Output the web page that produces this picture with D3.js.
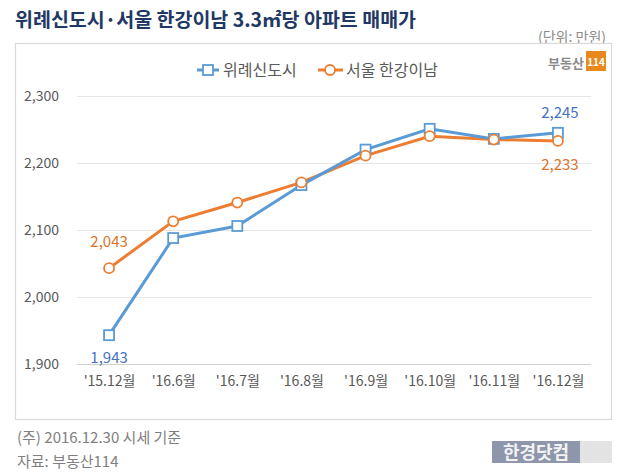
<!DOCTYPE html>
<html><head><meta charset="utf-8">
<script src="https://cdn.jsdelivr.net/npm/d3@7"></script>
<style>
body{margin:0;background:#fff;}
text{font-family:"Noto Sans CJK KR","Noto Sans",sans-serif;}
</style></head>
<body><svg id="c" width="630" height="472"></svg>
<script>
const categories = ["'15.12월","'16.6월","'16.7월","'16.8월","'16.9월","'16.10월","'16.11월","'16.12월"];
const wiryeValues = [1943, 2088, 2106, 2167, 2220, 2251, 2236, 2245];
const seoulValues = [2043, 2113, 2141, 2171, 2211, 2240, 2235, 2233];
const seriesNames = ["위례신도시", "서울 한강이남"];
const yTicks = [1900, 2000, 2100, 2200, 2300];

const svg = d3.select("#c");
const blue = "#5b9bd5", orange = "#ed7d31";
const FF = '"Noto Sans CJK KR","Noto Sans",sans-serif';

// title
svg.append("text").attr("x", 15).attr("y", 27).attr("font-size", 19.5).attr("font-weight", "bold")
  .attr("fill", "#1f3864").text("위례신도시·서울 한강이남 3.3㎡당 아파트 매매가");
svg.append("text").attr("x", 606).attr("y", 42).attr("text-anchor", "end").attr("font-size", 14)
  .attr("fill", "#8c8c8c").text("(단위: 만원)");

// box
svg.append("rect").attr("x", 15.5).attr("y", 43.5).attr("width", 596).attr("height", 376)
  .attr("fill", "#fff").attr("stroke", "#d9d9d9").attr("stroke-width", 1.2);

// logo
svg.append("text").attr("x", 584).attr("y", 68).attr("text-anchor", "end").attr("font-size", 13)
  .attr("font-weight", "bold").attr("fill", "#8a8a8a").text("부동산");
svg.append("rect").attr("x", 586).attr("y", 51).attr("width", 20).attr("height", 20).attr("fill", "#e8891d");
svg.append("text").attr("x", 596).attr("y", 66).attr("text-anchor", "middle").attr("font-size", 10)
  .attr("font-weight", "bold").attr("fill", "#fff").text("114");

const x = d3.scalePoint().domain(categories).range([77, 590]).padding(0.5);
const y = d3.scaleLinear().domain([1900, 2300]).range([364, 96]);

// grid
svg.append("g").selectAll("line").data(yTicks).join("line")
  .attr("x1", 77).attr("x2", 591).attr("y1", d => y(d) + 0.5).attr("y2", d => y(d) + 0.5)
  .attr("stroke", d => d === 1900 ? "#d0d0d0" : "#e6e6e6").attr("stroke-width", 1);

// y axis labels
const yAxis = d3.axisLeft(y).tickValues(yTicks).tickFormat(d3.format(",")).tickSize(0).tickPadding(0);
const ga = svg.append("g").attr("transform", "translate(59,0)").call(yAxis);
ga.select(".domain").remove();
ga.selectAll("text").attr("font-size", 14).attr("fill", "#595959").style("font-family", FF);

// x axis labels
const xAxis = d3.axisBottom(x).tickSize(0).tickPadding(0);
const gx = svg.append("g").attr("transform", "translate(0,376)").call(xAxis);
gx.select(".domain").remove();
gx.selectAll("text").attr("font-size", 14).attr("fill", "#595959").style("font-family", FF);

const line = d3.line().x((d, i) => x(categories[i])).y(d => y(d));
svg.append("path").datum(seoulValues).attr("d", line).attr("fill", "none").attr("stroke", orange).attr("stroke-width", 3);
svg.append("path").datum(wiryeValues).attr("d", line).attr("fill", "none").attr("stroke", blue).attr("stroke-width", 3);

svg.append("g").selectAll("rect").data(wiryeValues).join("rect")
  .attr("x", (d, i) => x(categories[i]) - 5).attr("y", d => y(d) - 5)
  .attr("width", 10).attr("height", 10).attr("fill", "#fff").attr("stroke", blue).attr("stroke-width", 1.8);
svg.append("g").selectAll("circle").data(seoulValues).join("circle")
  .attr("cx", (d, i) => x(categories[i])).attr("cy", d => y(d)).attr("r", 5)
  .attr("fill", "#fff").attr("stroke", orange).attr("stroke-width", 1.8);

// data labels
const fmt = d3.format(",");
const lab = (txt, cx, cy, col) => svg.append("text").attr("x", cx).attr("y", cy).attr("text-anchor", "middle")
  .attr("font-size", 15).attr("fill", col).text(txt);
const last = categories.length - 1;
lab(fmt(seoulValues[0]), x(categories[0]), y(seoulValues[0]) - 21, "#d9752c");
lab(fmt(wiryeValues[0]), x(categories[0]), y(wiryeValues[0]) + 28, "#4472c4");
lab(fmt(wiryeValues[last]), x(categories[last]) + 2, y(wiryeValues[last]) - 15, "#4472c4");
lab(fmt(seoulValues[last]), x(categories[last]) + 2, y(seoulValues[last]) + 29, "#d9752c");

// legend
const lg = svg.append("g");
lg.append("line").attr("x1", 197).attr("x2", 219).attr("y1", 70).attr("y2", 70).attr("stroke", blue).attr("stroke-width", 3);
lg.append("rect").attr("x", 203).attr("y", 65).attr("width", 10).attr("height", 10).attr("fill", "#fff").attr("stroke", blue).attr("stroke-width", 1.8);
lg.append("text").attr("x", 223).attr("y", 76).attr("font-size", 16).attr("fill", "#595959").text(seriesNames[0]);
lg.append("line").attr("x1", 318).attr("x2", 343).attr("y1", 70).attr("y2", 70).attr("stroke", orange).attr("stroke-width", 3);
lg.append("circle").attr("cx", 330).attr("cy", 70).attr("r", 5).attr("fill", "#fff").attr("stroke", orange).attr("stroke-width", 1.8);
lg.append("text").attr("x", 346).attr("y", 76).attr("font-size", 16).attr("fill", "#595959").text(seriesNames[1]);

// footer
svg.append("text").attr("x", 17).attr("y", 443).attr("font-size", 15).attr("fill", "#7f7f7f").text("(주) 2016.12.30 시세 기준");
svg.append("text").attr("x", 17).attr("y", 467).attr("font-size", 15).attr("fill", "#7f7f7f").text("자료: 부동산114");

// watermark
svg.append("rect").attr("x", 492).attr("y", 441).attr("width", 88).attr("height", 22).attr("fill", "#8d96aa");
svg.append("rect").attr("x", 580).attr("y", 441).attr("width", 32).attr("height", 22).attr("fill", "#e3e3e3");
svg.append("text").attr("x", 536).attr("y", 459).attr("text-anchor", "middle").attr("font-size", 18)
  .attr("font-weight", "bold").attr("fill", "#f2f2f2").text("한경닷컴");
</script></body></html>
